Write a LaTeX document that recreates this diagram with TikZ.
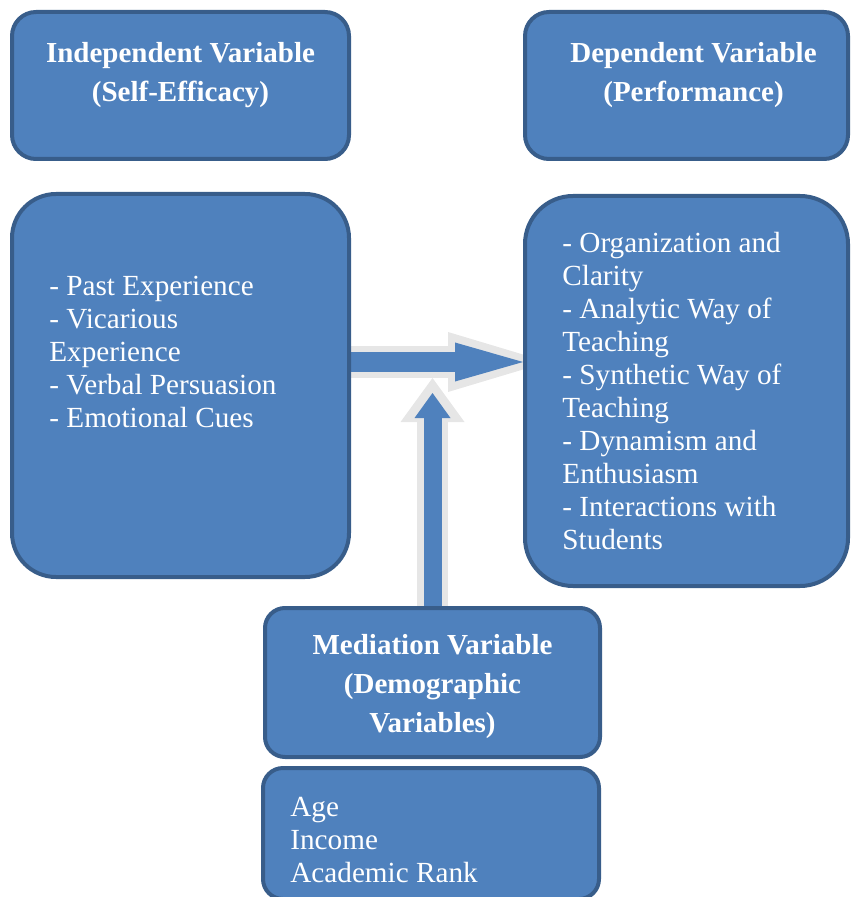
\documentclass[tikz,border=0pt]{standalone}
\usepackage{fontspec}
\setmainfont{Liberation Serif}
\usetikzlibrary{positioning,arrows.meta,backgrounds,calc}
\definecolor{boxfill}{HTML}{4F81BD}
\definecolor{boxline}{HTML}{385D8A}
\definecolor{halo}{HTML}{E6E6E6}

\begin{document}
\begin{tikzpicture}[x=0.5pt,y=-0.5pt,
    box/.style={draw=boxline,fill=boxfill,line width=2pt,rounded corners=12pt,inner sep=0pt},
    head/.style={text=white,font=\fontsize{14.5}{19.5}\selectfont\bfseries,align=center,inner sep=0pt},
    items/.style={text=white,font=\fontsize{14.6}{16.5}\selectfont,align=left,inner sep=0pt}]
  \useasboundingbox (0,0) rectangle (850,897);

  \node[box, minimum width=168.5pt, minimum height=73.5pt] (iv)   at (180.5,85.5) {};
  \node[box, minimum width=161.5pt, minimum height=73.5pt] (dv)   at (686.5,85.5) {};
  \node[box, minimum width=168.5pt, minimum height=191.5pt, rounded corners=22pt] (ivlist) at (180.5,385.5) {};
  \node[box, minimum width=161.5pt, minimum height=195pt, rounded corners=24pt]   (dvlist) at (686.5,391) {};
  \node[box, minimum width=167.5pt, minimum height=74.5pt, rounded corners=10pt]  (med)    at (432.5,682.5) {};
  \node[box, minimum width=168pt, minimum height=65.5pt, rounded corners=10pt]    (demo)   at (431,833.5) {};

  \node[head] (ivhead)  at ($(iv.center)+(0,-10)$)  {Independent Variable\\(Self-Efficacy)};
  \node[head] (dvhead)  at ($(dv.center)+(7,-10)$)  {Dependent Variable\\(Performance)};
  \node[head] (medhead) at ($(med.center)+(0,4)$)   {Mediation Variable\\(Demographic\\Variables)};

  \node[items, below right=42pt and 19.5pt of ivlist.north west] (ivitems)
    {- Past Experience\\- Vicarious\\Experience\\- Verbal Persuasion\\- Emotional Cues};
  \node[items, below right=19pt and 19.5pt of dvlist.north west] (dvitems)
    {- Organization and\\Clarity\\- Analytic Way of\\Teaching\\- Synthetic Way of\\Teaching\\- Dynamism and\\Enthusiasm\\- Interactions with\\Students};
  \node[items, below right=15.5pt and 14.5pt of demo.north west] (demoitems)
    {Age\\Income\\Academic Rank};

  \coordinate (hmid) at ($(ivlist.east)+(0,-23.5)$);
  \coordinate (vtip) at ($(med.north)+(0,-213)$);
  \coordinate (vout) at ($(med.north)+(0,-228)$);

  \begin{scope}[on background layer]
    \draw[halo, line width=16pt, -{Triangle[length=50pt, width=30pt, line width=0pt]}]
      (hmid) -- ([xshift=12.5pt]hmid -| dvlist.west);
    \draw[boxfill, line width=10pt, -{Triangle[length=34pt, width=19.5pt, line width=0pt]}]
      (hmid) -- (hmid -| dvlist.west);
    \draw[halo, line width=15.5pt, -{Triangle[length=22pt, width=32pt, line width=0pt]}]
      (med.north) -- (vout);
    \draw[boxfill, line width=9pt, -{Triangle[length=12.5pt, width=18pt, line width=0pt]}]
      (med.north) -- (vtip);
  \end{scope}
\end{tikzpicture}
\end{document}
